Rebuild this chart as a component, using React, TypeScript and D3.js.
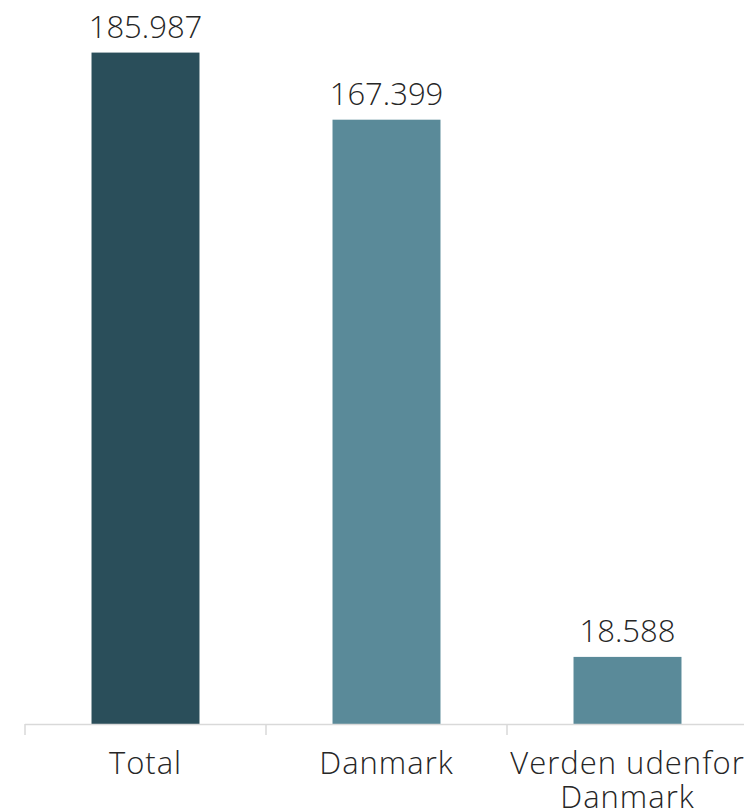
import React from "react";
import * as d3 from "d3";

const categories: string[][] = [["Total"], ["Danmark"], ["Verden udenfor", "Danmark"]];
const values: number[] = [185987, 167399, 18588];
const valueLabels: string[] = ["185.987", "167.399", "18.588"];
const barColors: string[] = ["#2A4E5A", "#5A8A99"];

export default function App() {
  const W = 744, H = 812;
  const x = d3.scaleBand<number>()
    .domain(d3.range(values.length))
    .range([25, 748])
    .paddingInner(0.552)
    .paddingOuter(0.276);
  const y = d3.scaleLinear().domain([0, 200000]).range([724, 2]);
  const step = x.step();
  const bounds = d3.range(values.length + 1).map((i) => 25 + i * step);
  const font = "'Open Sans', sans-serif";
  return (
    <svg width={W} height={H} style={{ position: "absolute", left: 0, top: 0, background: "#fff" }}>
      {values.map((v, i) => (
        <g key={i}>
          <rect x={x(i)!} y={y(v)} width={x.bandwidth()} height={y(0) - y(v)} fill={i === 0 ? barColors[0] : barColors[1]} />
          <text x={x(i)! + x.bandwidth() / 2} y={y(v) - 15} textAnchor="middle" fontFamily={font} fontWeight={300} fontSize={31} fill="#262626">
            {valueLabels[i]}
          </text>
        </g>
      ))}
      <line x1={25} x2={W} y1={724.5} y2={724.5} stroke="#D9D9D9" strokeWidth={1.5} />
      {bounds.map((b, i) => (
        <line key={i} x1={b} x2={b} y1={724} y2={735} stroke="#D9D9D9" strokeWidth={1.5} />
      ))}
      {categories.map((lines, i) => (
        <text key={i} x={x(i)! + x.bandwidth() / 2} y={774} textAnchor="middle" fontFamily={font} fontWeight={300} fontSize={31} letterSpacing={1} fill="#262626">
          {lines.map((l, j) => (
            <tspan key={j} x={x(i)! + x.bandwidth() / 2} dy={j === 0 ? 0 : 34}>{l}</tspan>
          ))}
        </text>
      ))}
    </svg>
  );
}
